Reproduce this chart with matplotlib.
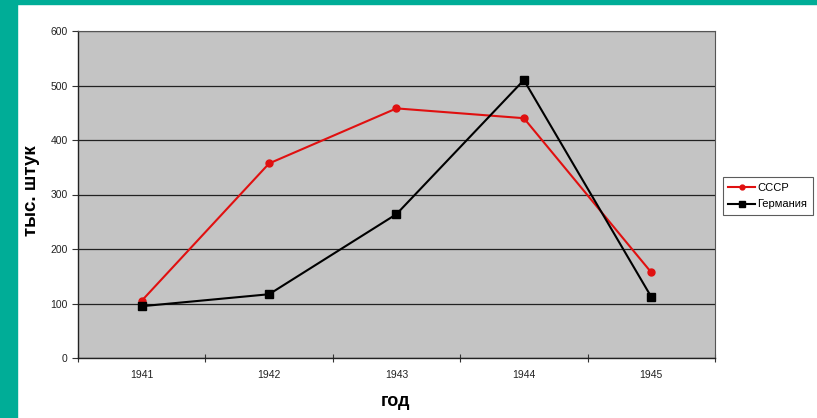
import matplotlib
matplotlib.use("Agg")
import matplotlib.pyplot as plt
from matplotlib.patches import Rectangle
import numpy as np

plt.rcParams['font.family'] = ['Liberation Sans', 'DejaVu Sans']

years = ["1941", "1942", "1943", "1944", "1945"]
ussr = [105, 357, 458, 440, 157]
germany = [95, 117, 264, 510, 112]
y_ticks = [0, 100, 200, 300, 400, 500, 600]

fig = plt.figure(figsize=(8.17, 4.18), dpi=100)
fig.patch.set_facecolor("white")
# teal frame
fig.patches.append(Rectangle((0, 0), 17/817, 1, transform=fig.transFigure, color="#00ad97", zorder=0))
fig.patches.append(Rectangle((0, 1-4/418), 1, 4/418, transform=fig.transFigure, color="#00ad97", zorder=0))

ax = fig.add_axes([78/817, 1-358/418, 637/817, 327/418])
ax.set_facecolor("#c4c4c4")
x = np.arange(len(years)) + 0.5
ax.plot(x, ussr, color="#e01010", lw=1.5, marker="o", ms=5, label="СССР")
ax.plot(x, germany, color="black", lw=1.5, marker="s", ms=6, label="Германия")
ax.set_xlim(0, len(years))
ax.set_ylim(0, 600)
ax.set_yticks(y_ticks)
ax.set_yticklabels([str(v) for v in y_ticks], fontsize=7.5, color="#222222")
ax.yaxis.grid(True, color="#222222", lw=0.9)
ax.set_axisbelow(True)
ax.set_xticks(np.arange(len(years)+1))
ax.set_xticklabels([])
ax.set_xticks(x, minor=True)
ax.set_xticklabels(years, minor=True, fontsize=7.5, color="#222222")
ax.tick_params(axis="x", which="minor", length=0, pad=9)
ax.tick_params(axis="x", which="major", length=6, direction="inout", color="#333333")
ax.tick_params(axis="y", length=4, color="#333333")
for s in ["top", "right"]:
    ax.spines[s].set_color("#555555")
    ax.spines[s].set_linewidth(0.8)
for s in ["left", "bottom"]:
    ax.spines[s].set_color("#222222")
    ax.spines[s].set_linewidth(1)

fig.text(32/817, 1-191/418, "тыс. штук", rotation=90, fontsize=13.5, fontweight="bold", ha="center", va="center")
fig.text(396/817, 1-402/418, "год", fontsize=13, fontweight="bold", ha="center", va="center")

leg = ax.legend(loc="center left", bbox_to_anchor=(1.012, 0.495), fontsize=8, frameon=True,
                fancybox=False, edgecolor="#333333", borderpad=0.5, handlelength=2.4,
                handletextpad=0.2, labelspacing=0.6, borderaxespad=0, markerscale=0.7)
leg.get_frame().set_linewidth(0.8)

fig.savefig("out.png", dpi=100)
